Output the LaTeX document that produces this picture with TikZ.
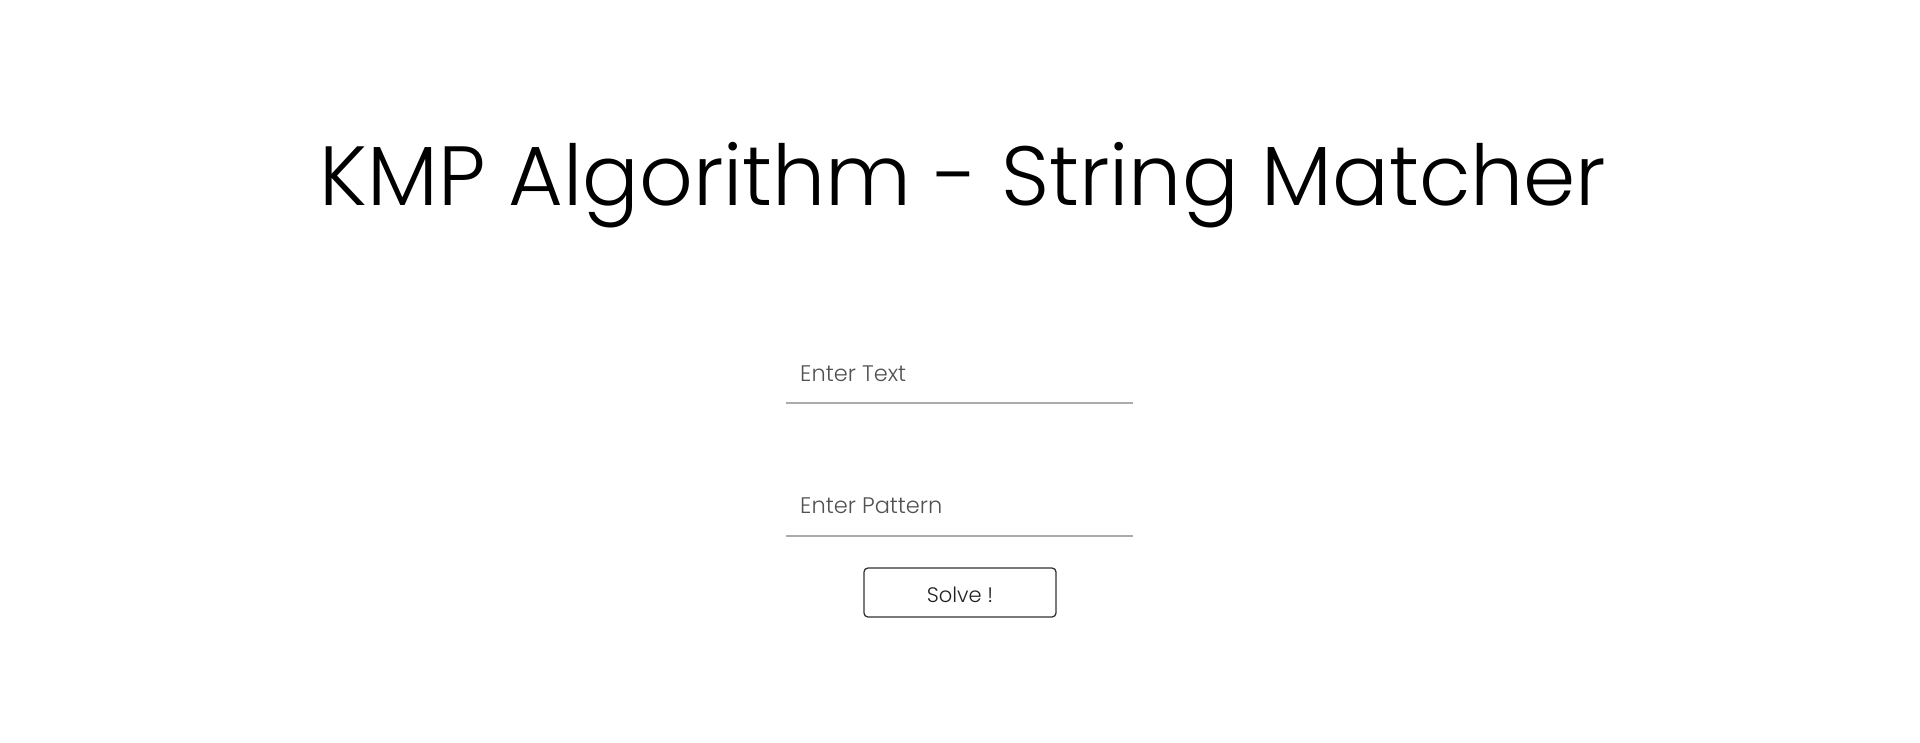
\documentclass[tikz,border=0pt]{standalone}
\usepackage{fontspec}
\setmainfont{Poppins}[UprightFont=* Light]
\begin{document}
\begin{tikzpicture}[x=1pt,y=-1pt,
  line/.style={draw=black!33, line width=1.5pt},
  hint/.style={anchor=base west, text=black!68, inner sep=0pt, font=\fontsize{22.5}{28}\selectfont},
  btn/.style={draw=black!80, line width=1.3pt, rounded corners=4pt},
  title/.style={anchor=base, inner sep=0pt, font=\fontsize{84}{100}\selectfont}]
\useasboundingbox (0,0) rectangle (1920,742);
\node[title] (t) at (963,205) {KMP Algorithm - String Matcher};
\node[hint] (h1) at (800,381) {Enter Text};
\coordinate (a1) at (786,403);
\coordinate (b1) at (1133,403);
\draw[line] (a1) -- (b1);
\node[hint] (h2) at (800,513) {Enter Pattern};
\coordinate (a2) at (786,536);
\coordinate (b2) at (1133,536);
\draw[line] (a2) -- (b2);
\node[btn, minimum width=192pt, minimum height=49pt, inner sep=0pt] (b) at (960,592.5) {};
\node[anchor=base, inner sep=0pt, text=black!87, font=\fontsize{21}{26}\selectfont] (s) at (960,602) {Solve !};
\end{tikzpicture}
\end{document}
